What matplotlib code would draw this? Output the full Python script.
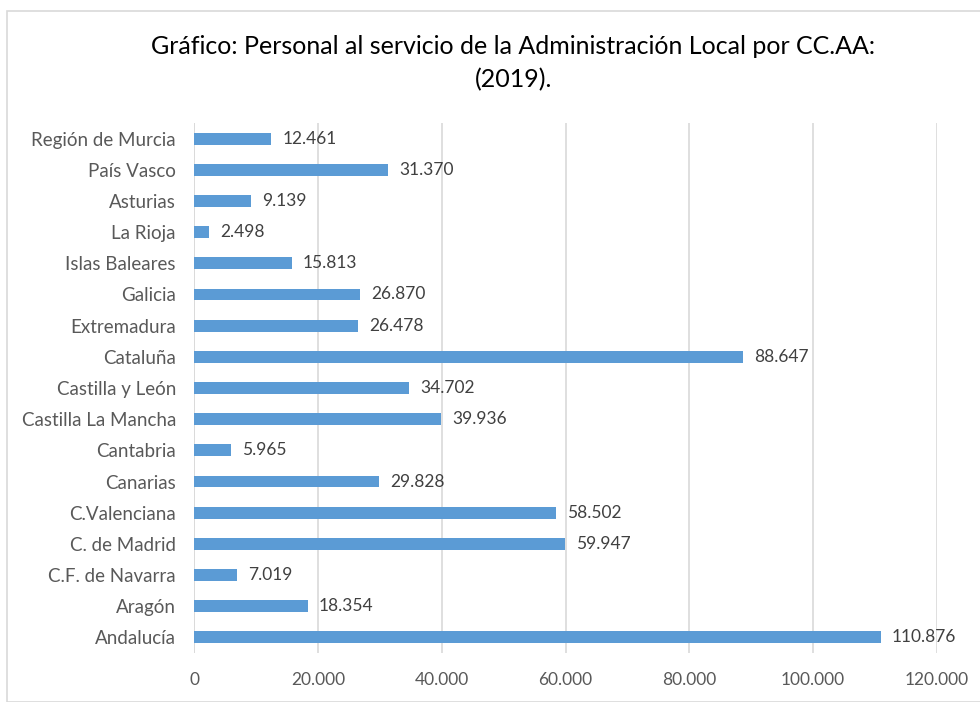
import matplotlib
matplotlib.use("Agg")
import matplotlib.pyplot as plt
from matplotlib.patches import Rectangle
from matplotlib.ticker import FuncFormatter

plt.rcParams['font.family'] = ['Lato', 'DejaVu Sans']

categories = ["Andalucía", "Aragón", "C.F. de Navarra", "C. de Madrid", "C.Valenciana",
              "Canarias", "Cantabria", "Castilla La Mancha", "Castilla y León", "Cataluña",
              "Extremadura", "Galicia", "Islas Baleares", "La Rioja", "Asturias",
              "País Vasco", "Región de Murcia"]
values = [110876, 18354, 7019, 59947, 58502, 29828, 5965, 39936, 34702, 88647,
          26478, 26870, 15813, 2498, 9139, 31370, 12461]
xticks = [0, 20000, 40000, 60000, 80000, 100000, 120000]
title = "Gráfico: Personal al servicio de la Administración Local por CC.AA:\n(2019)."

def fmt(v):
    return f"{int(v):,}".replace(",", ".")

W, H = 980, 702
fig = plt.figure(figsize=(W/100, H/100), dpi=100)
fig.patches.append(Rectangle((7/W, 0), 1.0, 1 - 11/H, transform=fig.transFigure,
                             fill=False, edgecolor='#D9D9D9', linewidth=1.2))
ax = fig.add_axes([194/W, 1 - 653/H, (937-194)/W, (653-123)/H])

y = list(range(len(categories)))
ax.barh(y, values, height=0.38, color='#5B9BD5', zorder=3)
ax.set_ylim(-0.5, len(categories) - 0.5)
ax.set_xlim(0, 120000)
ax.set_xticks(xticks)
ax.xaxis.set_major_formatter(FuncFormatter(lambda v, p: fmt(v)))
ax.set_yticks(y)
ax.set_yticklabels(categories)
ax.grid(axis='x', color='#D9D9D9', linewidth=1.2, zorder=0)
for s in ax.spines.values():
    s.set_visible(False)
ax.axvline(0, color='#D9D9D9', linewidth=1.2, zorder=1)
ax.tick_params(axis='both', length=0, colors='#595959')
ax.tick_params(axis='x', pad=14, labelsize=12.5)
ax.tick_params(axis='y', pad=13, labelsize=13.5)
for yi, v in zip(y, values):
    ax.text(v + 1800, yi, fmt(v), va='center', ha='left', fontsize=12.5, color='#404040')

fig.text(0.524, 1 - 63/H, title, ha='center', va='center', fontsize=18,
         color='#000000', linespacing=1.5)

fig.savefig("out.png", dpi=100, facecolor='white')
